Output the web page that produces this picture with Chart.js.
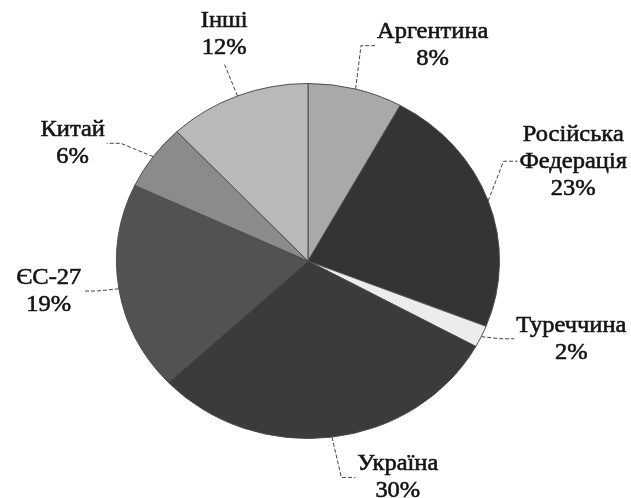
<!DOCTYPE html>
<html><head><meta charset="utf-8">
<script src="https://cdn.jsdelivr.net/npm/chart.js@4/dist/chart.umd.min.js"></script>
<style>html,body{margin:0;padding:0;background:#fff;}#wrap{width:631px;height:498px;}</style>
</head><body><div id="wrap"><canvas id="c" width="631" height="498"></canvas></div>
<script>
const categories = ['Аргентина', 'Російська Федерація', 'Туреччина', 'Україна', 'ЄС-27', 'Китай', 'Інші'];
const shares = [8, 23, 2, 30, 19, 6, 12];
const labelLines = [['Аргентина'], ['Російська', 'Федерація'], ['Туреччина'], ['Україна'], ['ЄС-27'], ['Китай'], ['Інші']];

// styling / layout (not data)
const sliceColors = ['#a9a9a9', '#343434', '#ececec', '#3b3b3b', '#525252', '#8b8b8b', '#b9b9b9'];
const labelSpots = [[0.651, -1.213], [1.385, -0.562], [1.375, 0.438], [0.469, 1.219], [-1.354, 0.169], [-1.229, -0.663], [-0.4375, -1.275]];
const Y_SQUASH = 0.927;
const TEXT_STRETCH = 1.02;
const FONT = '24px "Liberation Serif", "Times New Roman", serif';
const LINE_H = 27;

const squash = {
  id: 'squash',
  beforeDatasetsDraw(chart) {
    const a = chart.getDatasetMeta(0).data[0];
    const ctx = chart.ctx;
    ctx.save();
    ctx.translate(a.x, a.y);
    ctx.scale(1, Y_SQUASH);
    ctx.translate(-a.x, -a.y);
  },
  afterDatasetsDraw(chart) { chart.ctx.restore(); }
};

const outerLabels = {
  id: 'outerLabels',
  afterDraw(chart) {
    const ctx = chart.ctx;
    const meta = chart.getDatasetMeta(0);
    meta.data.forEach((arc, i) => {
      const cx = arc.x, cy = arc.y, rx = arc.outerRadius, ry = arc.outerRadius * Y_SQUASH;
      const mid = (arc.startAngle + arc.endAngle) / 2;
      const ex = cx + Math.cos(mid) * rx, ey = cy + Math.sin(mid) * ry;
      const lines = [...labelLines[i], shares[i] + '%'];
      ctx.save();
      ctx.font = FONT;
      const w = Math.max(...lines.map(t => ctx.measureText(t).width)) * TEXT_STRETCH;
      const h = lines.length * LINE_H;
      const lx = cx + labelSpots[i][0] * rx, ly = cy + labelSpots[i][1] * ry;
      ctx.strokeStyle = '#444';
      ctx.lineWidth = 1;
      ctx.setLineDash([4, 2]);
      ctx.beginPath();
      ctx.moveTo(ex, ey);
      if (Math.abs(labelSpots[i][0]) > 0.45) {
        const dir = labelSpots[i][0] > 0 ? -1 : 1;
        const endX = lx + dir * (w / 2 + 2);
        const elbowX = endX + dir * 14;
        ctx.lineTo(elbowX, ly);
        ctx.lineTo(endX, ly);
      } else {
        ctx.lineTo(lx, ly + h / 2 + 2);
      }
      ctx.stroke();
      ctx.setLineDash([]);
      ctx.fillStyle = '#141414';
      ctx.strokeStyle = '#141414';
      ctx.lineWidth = 0.6;
      ctx.textAlign = 'center';
      ctx.textBaseline = 'middle';
      lines.forEach((t, k) => {
        ctx.save();
        ctx.translate(lx, ly - h / 2 + LINE_H * (k + 0.5));
        ctx.scale(TEXT_STRETCH, 1);
        ctx.fillText(t, 0, 0);
        ctx.strokeText(t, 0, 0);
        ctx.restore();
      });
      ctx.restore();
    });
  }
};

function build() {
  new Chart(document.getElementById('c'), {
    type: 'pie',
    data: {
      labels: categories,
      datasets: [{
        data: shares,
        backgroundColor: sliceColors,
        borderColor: '#4a4a4a',
        borderWidth: 1
      }]
    },
    options: {
      responsive: false,
      animation: false,
      layout: { padding: { left: 116, right: 131, top: 69, bottom: 45 } },
      plugins: { legend: { display: false }, tooltip: { enabled: false } }
    },
    plugins: [squash, outerLabels]
  });
}
document.fonts.load(FONT, 'АргентинаЄС').then(build, build);
</script>
</body></html>
